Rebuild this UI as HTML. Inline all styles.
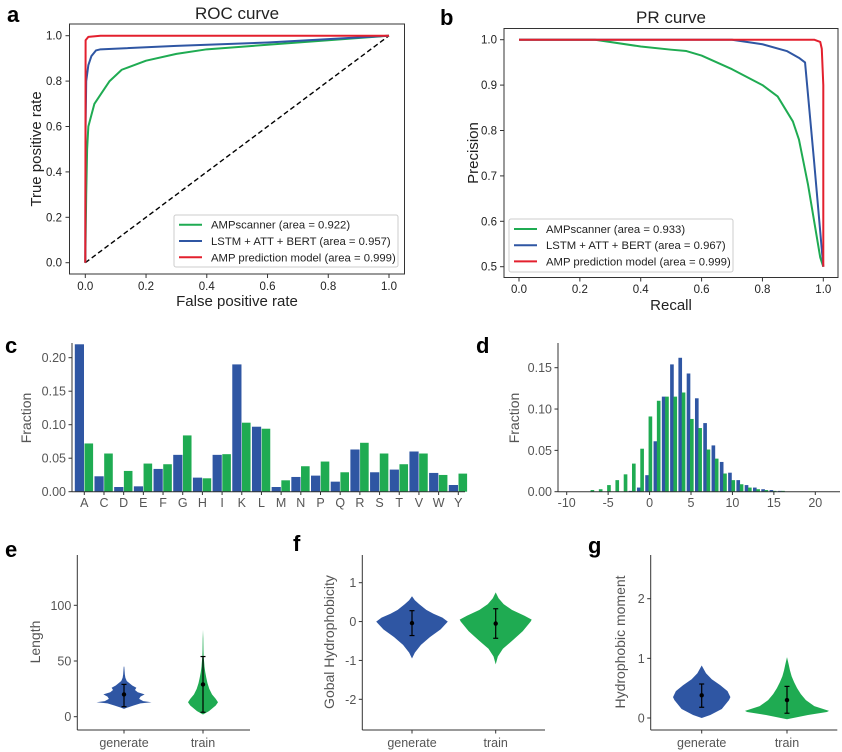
<!DOCTYPE html>
<html><head><meta charset="utf-8"><style>
html,body{margin:0;padding:0;background:#fff;}
svg{display:block;font-family:"Liberation Sans",Arial,sans-serif;}
</style></head><body>
<svg id="fig" width="842" height="752" viewBox="0 0 842 752" xmlns="http://www.w3.org/2000/svg"></svg>
<script>
// ---------- DATA ----------
const rocScanFpr=[0,0.003,0.006,0.01,0.02,0.03,0.05,0.08,0.12,0.2,0.3,0.4,0.6,0.8,1];
const rocScanTpr=[0,0.3,0.5,0.6,0.65,0.7,0.74,0.8,0.85,0.89,0.92,0.94,0.96,0.98,1];
const rocLstmFpr=[0,0.001,0.003,0.01,0.02,0.035,0.05,0.3,0.6,0.8,1];
const rocLstmTpr=[0,0.6,0.8,0.87,0.91,0.935,0.94,0.955,0.97,0.985,1];
const rocAmpFpr=[0,0.001,0.01,0.05,1];
const rocAmpTpr=[0,0.98,0.995,1,1];
const prScanRec=[0,0.25,0.4,0.5,0.55,0.6,0.7,0.8,0.85,0.9,0.92,0.95,0.97,0.99,1];
const prScanPre=[1,1,0.985,0.978,0.975,0.965,0.935,0.9,0.875,0.82,0.78,0.68,0.6,0.52,0.5];
const prLstmRec=[0,0.7,0.8,0.88,0.92,0.94,0.97,1];
const prLstmPre=[1,1,0.99,0.975,0.96,0.95,0.73,0.5];
const prAmpRec=[0,0.97,0.99,0.995,1,1];
const prAmpPre=[1,1,0.995,0.98,0.9,0.5];
const legendA=["AMPscanner (area = 0.922)","LSTM + ATT + BERT (area = 0.957)","AMP prediction model (area = 0.999)"];
const legendB=["AMPscanner (area = 0.933)","LSTM + ATT + BERT (area = 0.967)","AMP prediction model (area = 0.999)"];
const aminoAcids=["A","C","D","E","F","G","H","I","K","L","M","N","P","Q","R","S","T","V","W","Y"];
const aaGenerate=[0.22,0.023,0.007,0.008,0.034,0.055,0.021,0.055,0.19,0.097,0.007,0.022,0.024,0.015,0.063,0.029,0.033,0.06,0.028,0.01];
const aaTrain=[0.072,0.057,0.031,0.042,0.041,0.084,0.02,0.056,0.103,0.094,0.017,0.038,0.045,0.029,0.073,0.057,0.041,0.057,0.025,0.027];
const chargeBins=[-7,-6,-5,-4,-3,-2,-1,0,1,2,3,4,5,6,7,8,9,10,11,12,13,14,15,16];
const chargeTrain=[0.002,0.003,0.008,0.014,0.021,0.034,0.052,0.091,0.11,0.115,0.115,0.12,0.088,0.077,0.051,0.04,0.022,0.014,0.009,0.005,0.003,0.002,0.001,0.001];
const chargeGenerate=[0,0,0,0,0,0.001,0.005,0.02,0.061,0.115,0.154,0.162,0.143,0.113,0.083,0.056,0.036,0.023,0.014,0.008,0.005,0.003,0.002,0.001];
const ticksC=[0,0.05,0.10,0.15,0.20];
const ticksD=[-10,-5,0,5,10,15,20];
const ticksDy=[0,0.05,0.10,0.15];
// violins: y values and relative density
const lenGenY=[7,8,10,12,13,14,16,18,20,22,24,26,28,30,32,35,38,45];
const lenGenD=[0,0.1,0.35,0.6,1,0.7,0.55,0.6,0.75,0.5,0.4,0.45,0.3,0.2,0.1,0.05,0.03,0.01];
const lenTrainY=[2,5,10,13,16,20,25,30,35,40,45,50,55,60,70,78];
const lenTrainD=[0,0.4,0.85,1,0.85,0.6,0.42,0.3,0.22,0.15,0.1,0.07,0.04,0.03,0.02,0];
const lenStats=[[20,9,29],[29,4,54]];
const hydGenY=[-0.95,-0.8,-0.6,-0.4,-0.2,0,0.1,0.2,0.3,0.45,0.55,0.65];
const hydGenD=[0,0.08,0.25,0.5,0.8,1,0.85,0.6,0.4,0.2,0.08,0];
const hydTrainY=[-1.1,-0.9,-0.7,-0.5,-0.25,0,0.05,0.15,0.3,0.45,0.6,0.75];
const hydTrainD=[0,0.06,0.2,0.45,0.75,0.97,1,0.8,0.45,0.22,0.08,0];
const hydStats=[[-0.04,-0.36,0.28],[-0.05,-0.43,0.33]];
const momGenY=[0,0.05,0.15,0.3,0.35,0.45,0.55,0.65,0.75,0.88];
const momGenD=[0,0.3,0.7,0.95,1,0.9,0.65,0.35,0.15,0];
const momTrainY=[-0.02,0.05,0.1,0.12,0.2,0.3,0.4,0.5,0.6,0.7,0.8,0.9,1.02];
const momTrainD=[0,0.5,0.95,1,0.65,0.45,0.33,0.24,0.17,0.11,0.07,0.04,0];
const momStats=[[0.38,0.18,0.57],[0.3,0.08,0.53]];

// ---------- HELPERS ----------
const NS="http://www.w3.org/2000/svg";
const svg=document.getElementById('fig');
const BLUE="#2f56a3",GREEN="#1fab52",RED="#e3202e",TXT="#222",GREY="#555";
function mk(tag,attrs,parent,text){const e=document.createElementNS(NS,tag);for(const k in attrs)e.setAttribute(k,attrs[k]);if(text!==undefined)e.textContent=text;(parent||svg).appendChild(e);return e;}
function lin(d0,d1,r0,r1){return v=>r0+(v-d0)*(r1-r0)/(d1-d0);}
function group(name){const g=mk('g',{});return g;}
function txt(g,x,y,s,size,anchor,fill,extra){const t=mk('text',Object.assign({x:x,y:y,'font-size':size,'text-anchor':anchor||'middle',fill:fill||TXT},extra||{}),g,s);return t;}
function poly(g,xs,ys,sx,sy,color,name){const pts=xs.map((v,i)=>sx(v).toFixed(2)+','+sy(ys[i]).toFixed(2)).join(' ');const p=mk('polyline',{points:pts,fill:'none',stroke:color,'stroke-width':2,'stroke-linejoin':'round'},g);}

// ---------- PANEL A: ROC ----------
(function(){
 const g=group('roc-panel');
 txt(g,7,22,'a',22,'start','#000',{'font-weight':'bold'});
 txt(g,237,19,'ROC curve',17);
 mk('rect',{x:69.5,y:24,width:335,height:250,fill:'none',stroke:'#333','stroke-width':1},g);
 const sx=lin(0,1,85.3,389),sy=lin(0,1,262.7,35.7);
 [0,0.2,0.4,0.6,0.8,1].forEach(v=>{
  mk('line',{x1:sx(v),x2:sx(v),y1:274,y2:278,stroke:'#333'},g);
  txt(g,sx(v),290,v.toFixed(1),11.5);
  mk('line',{x1:65.5,x2:69.5,y1:sy(v),y2:sy(v),stroke:'#333'},g);
  txt(g,62,sy(v)+4,v.toFixed(1),11.5,'end');
 });
 txt(g,237,306,'False positive rate',15);
 txt(g,41,149,'True positive rate',15,'middle',TXT,{transform:'rotate(-90 41 149)'});
 const d=mk('line',{x1:sx(0),y1:sy(0),x2:sx(1),y2:sy(1),stroke:'#000','stroke-width':1.4,'stroke-dasharray':'5,3'},g);
 
 poly(g,rocScanFpr,rocScanTpr,sx,sy,GREEN,'roc-ampscanner-line');
 poly(g,rocLstmFpr,rocLstmTpr,sx,sy,BLUE,'roc-lstm-line');
 poly(g,rocAmpFpr,rocAmpTpr,sx,sy,RED,'roc-amp-model-line');
 const lg=group('roc-legend');g.appendChild(lg);
 mk('rect',{x:174,y:215,width:224,height:52,fill:'#fff',stroke:'#ccc',rx:2},lg);
 [GREEN,BLUE,RED].forEach((c,i)=>{const y=224.7+i*16.3;
  mk('line',{x1:179,x2:202,y1:y,y2:y,stroke:c,'stroke-width':2},lg);
  txt(lg,211,y+4,legendA[i],11.3,'start');});
})();

// ---------- PANEL B: PR ----------
(function(){
 const g=group('pr-panel');
 txt(g,440,25,'b',22,'start','#000',{'font-weight':'bold'});
 txt(g,671,23,'PR curve',17);
 mk('rect',{x:504,y:28.5,width:334,height:249,fill:'none',stroke:'#333','stroke-width':1},g);
 const sx=lin(0,1,519,823.3),sy=lin(0.5,1,266.7,39.7);
 [0,0.2,0.4,0.6,0.8,1].forEach(v=>{
  mk('line',{x1:sx(v),x2:sx(v),y1:277.5,y2:281.5,stroke:'#333'},g);
  txt(g,sx(v),293,v.toFixed(1),11.5);});
 [0.5,0.6,0.7,0.8,0.9,1].forEach(v=>{
  mk('line',{x1:500,x2:504,y1:sy(v),y2:sy(v),stroke:'#333'},g);
  txt(g,497,sy(v)+4,v.toFixed(1),11.5,'end');});
 txt(g,671,310,'Recall',15);
 txt(g,478,153,'Precision',15,'middle',TXT,{transform:'rotate(-90 478 153)'});
 poly(g,prScanRec,prScanPre,sx,sy,GREEN,'pr-ampscanner-line');
 poly(g,prLstmRec,prLstmPre,sx,sy,BLUE,'pr-lstm-line');
 poly(g,prAmpRec,prAmpPre,sx,sy,RED,'pr-amp-model-line');
 const lg=group('pr-legend');g.appendChild(lg);
 mk('rect',{x:509,y:219,width:224,height:53,fill:'#fff',stroke:'#ccc',rx:2},lg);
 [GREEN,BLUE,RED].forEach((c,i)=>{const y=229+i*16.2;
  mk('line',{x1:514,x2:537,y1:y,y2:y,stroke:c,'stroke-width':2},lg);
  txt(lg,546,y+4,legendB[i],11.3,'start');});
})();

// ---------- PANEL C: amino acid fractions ----------
(function(){
 const g=group('aa-composition-panel');
 txt(g,5,353,'c',22,'start','#000',{'font-weight':'bold'});
 const sy=lin(0,0.2,491.7,357.7);
 const step=(458.3-84.3)/19, sx=i=>84.3+i*step;
 aminoAcids.forEach((a,i)=>{
  const b=mk('rect',{x:sx(i)-9.5,y:sy(aaGenerate[i]),width:9.2,height:sy(0)-sy(aaGenerate[i]),fill:BLUE},g);
  
  const c=mk('rect',{x:sx(i)+0.2,y:sy(aaTrain[i]),width:8.6,height:sy(0)-sy(aaTrain[i]),fill:GREEN},g);
  
  mk('line',{x1:sx(i),x2:sx(i),y1:491.7,y2:495,stroke:'#333'},g);
  txt(g,sx(i),507,a,12.5,'middle',GREY);
 });
 mk('line',{x1:72,x2:72,y1:343,y2:492,stroke:'#333'},g);
 mk('line',{x1:72,x2:465,y1:491.7,y2:491.7,stroke:'#333'},g);
 ticksC.forEach(v=>{mk('line',{x1:68.5,x2:72,y1:sy(v),y2:sy(v),stroke:'#333'},g);
  txt(g,66,sy(v)+4.5,v.toFixed(2),12.5,'end',GREY);});
 txt(g,31,418,'Fraction',14,'middle',GREY,{transform:'rotate(-90 31 418)'});
})();

// ---------- PANEL D: histogram ----------
(function(){
 const g=group('charge-histogram-panel');
 txt(g,476,353,'d',22,'start','#000',{'font-weight':'bold'});
 const sx=lin(-10,20,566.7,815.3),sy=lin(0,0.15,491.7,367.7);
 const u=sx(1)-sx(0);
 chargeBins.forEach((k,i)=>{
  if(chargeGenerate[i]>0){const b=mk('rect',{x:sx(k-0.3)-0.22*u,y:sy(chargeGenerate[i]),width:0.44*u,height:sy(0)-sy(chargeGenerate[i]),fill:BLUE},g);
   }
  const c=mk('rect',{x:sx(k+0.1)-0.22*u,y:sy(chargeTrain[i]),width:0.44*u,height:sy(0)-sy(chargeTrain[i]),fill:GREEN},g);
  
 });
 mk('line',{x1:558,x2:558,y1:343,y2:492,stroke:'#333'},g);
 mk('line',{x1:558,x2:840,y1:491.7,y2:491.7,stroke:'#333'},g);
 ticksD.forEach(v=>{mk('line',{x1:sx(v),x2:sx(v),y1:491.7,y2:495,stroke:'#333'},g);
  txt(g,sx(v),507,String(v),12.5,'middle',GREY);});
 ticksDy.forEach(v=>{mk('line',{x1:554.5,x2:558,y1:sy(v),y2:sy(v),stroke:'#333'},g);
  txt(g,552,sy(v)+4.5,v.toFixed(2),12.5,'end',GREY);});
 txt(g,519,418,'Fraction',14,'middle',GREY,{transform:'rotate(-90 519 418)'});
})();

// ---------- VIOLINS ----------
function violinPanel(name,letter,lx,ly,axisX,right,ticks,tickY0,tickY1,v0,v1,centers,maxW,series,stats,ylabel,labX){
 const g=group(name);
 txt(g,lx,ly,letter,22,'start','#000',{'font-weight':'bold'});
 const sy=lin(v0,v1,tickY0,tickY1);
 const cols=[BLUE,GREEN],names=['generate','train'];
 series.forEach((s,j)=>{
  const cx=centers[j],ys=s[0],ds=s[1];
  let L=[],R=[];
  ys.forEach((y,i)=>{R.push((cx+ds[i]*maxW[j]).toFixed(2)+','+sy(y).toFixed(2));L.unshift((cx-ds[i]*maxW[j]).toFixed(2)+','+sy(y).toFixed(2));});
  const p=mk('polygon',{points:R.concat(L).join(' '),fill:cols[j]},g);
  
  const st=stats[j];
  mk('line',{x1:cx,x2:cx,y1:sy(st[1]),y2:sy(st[2]),stroke:'#000','stroke-width':1.2},g);
  mk('line',{x1:cx-2.5,x2:cx+2.5,y1:sy(st[1]),y2:sy(st[1]),stroke:'#000','stroke-width':1.2},g);
  mk('line',{x1:cx-2.5,x2:cx+2.5,y1:sy(st[2]),y2:sy(st[2]),stroke:'#000','stroke-width':1.2},g);
  const m=mk('circle',{cx:cx,cy:sy(st[0]),r:2.2,fill:'#000'},g);
  
  mk('line',{x1:cx,x2:cx,y1:730,y2:733.5,stroke:'#333'},g);
  txt(g,cx,747,names[j],12.5,'middle',GREY);
 });
 mk('line',{x1:axisX,x2:axisX,y1:555,y2:730,stroke:'#333'},g);
 mk('line',{x1:axisX,x2:right,y1:730,y2:730,stroke:'#333'},g);
 ticks.forEach(v=>{mk('line',{x1:axisX-3.5,x2:axisX,y1:sy(v),y2:sy(v),stroke:'#333'},g);
  txt(g,axisX-6,sy(v)+4.5,String(v),12.5,'end',GREY);});
 txt(g,labX,642,ylabel,14,'middle',GREY,{transform:'rotate(-90 '+labX+' 642)'});
}
violinPanel('length-violin-panel','e',5,557,77.3,250,[0,50,100],716.7,605.3,0,100,[124,203],[27.5,15],
 [[lenGenY,lenGenD],[lenTrainY,lenTrainD]],lenStats,'Length',40);
violinPanel('hydrophobicity-violin-panel','f',293,551,362.3,545,[-2,-1,0,1],699.3,582.7,-2,1,[412,495.7],[35.8,36],
 [[hydGenY,hydGenD],[hydTrainY,hydTrainD]],hydStats,'Gobal Hydrophobicity',334);
violinPanel('hydrophobic-moment-violin-panel','g',588,553,650.7,837.3,[0,1,2],718,598.7,0,2,[701.7,787],[28.7,42],
 [[momGenY,momGenD],[momTrainY,momTrainD]],momStats,'Hydrophobic moment',625);
</script>
</body></html>
